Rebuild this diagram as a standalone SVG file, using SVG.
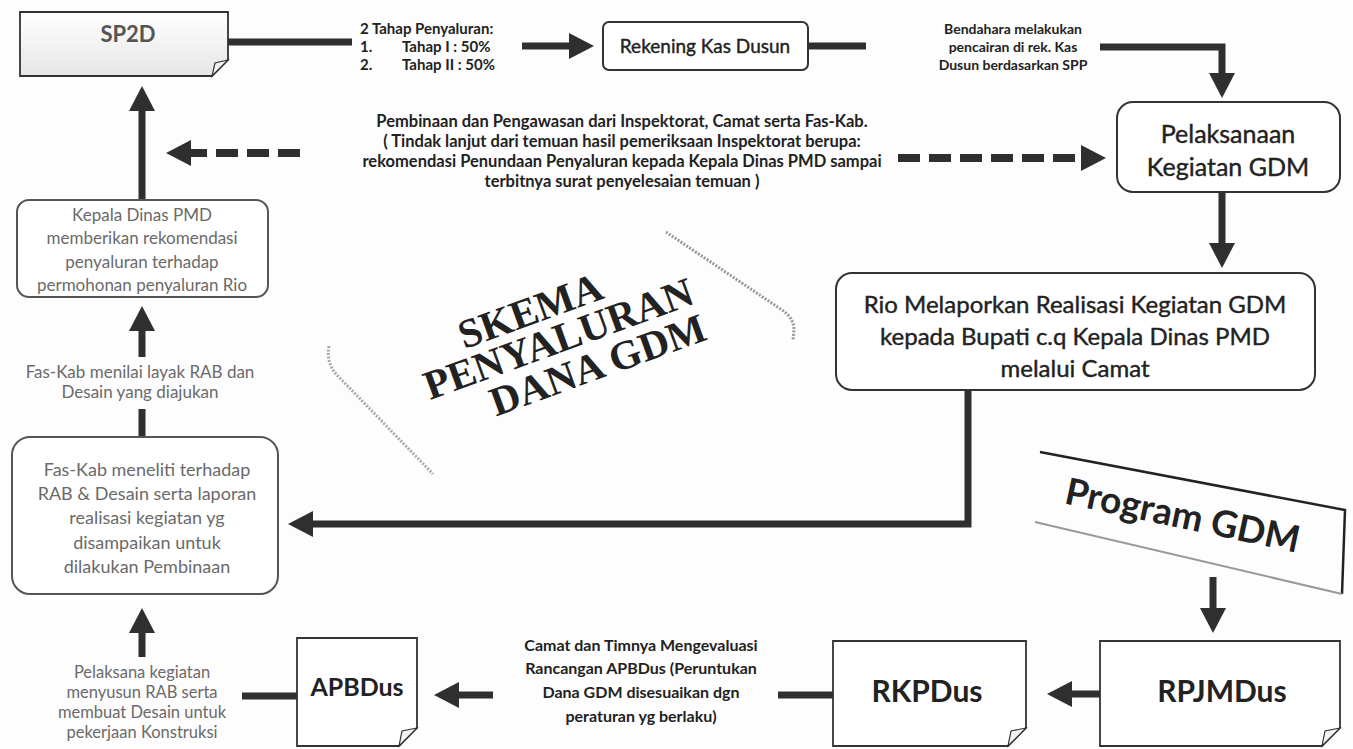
<svg xmlns="http://www.w3.org/2000/svg" width="1353" height="749" viewBox="0 0 1353 749">
<defs>
<style>
.box{fill:#fff;stroke:#333;stroke-width:2}
.note{fill:#fff;stroke:#333;stroke-width:1.8}
.fold{fill:#f4f4f4;stroke:#333;stroke-width:1.2}
.con{fill:none;stroke:#2f2f2f;stroke-width:7}
.dash{fill:none;stroke:#2f2f2f;stroke-width:8;stroke-dasharray:22 9}
.lbl{font-family:Lato,"Liberation Sans",sans-serif;font-weight:bold;font-size:15px;fill:#222;text-anchor:middle}
.lft{font-family:Lato,"Liberation Sans",sans-serif;font-size:17px;fill:#6a6a6a;text-anchor:middle}
.big{font-family:Lato,"Liberation Sans",sans-serif;fill:#222;text-anchor:middle}
.thick{stroke:#222;stroke-width:0.4}
.ttl{font-family:"Liberation Serif","DejaVu Serif",serif;font-weight:bold;font-size:41px;fill:#222;text-anchor:middle}
</style>
<linearGradient id="g1" x1="0" y1="0" x2="0" y2="1">
<stop offset="0" stop-color="#ffffff"/>
<stop offset="1" stop-color="#e6e6e6"/>
</linearGradient>
<marker id="ah" markerUnits="userSpaceOnUse" markerWidth="30" markerHeight="30" refX="1" refY="13" orient="auto">
<path d="M0,0 L25,13 L0,26 z" fill="#2f2f2f"/>
</marker>
</defs>
<rect width="1353" height="749" fill="#fdfdfd"/>

<g id="card">
<path d="M666 232 L782 310 Q794 318 794 330 L793 340" fill="none" stroke="#999" stroke-width="3" stroke-dasharray="2 1.5"/>
<path d="M329 346 Q326 362 336 374 L433 474" fill="none" stroke="#aaa" stroke-width="3" stroke-dasharray="2 1.5"/>
<g transform="translate(560,340) rotate(-20)">
<text class="ttl" x="-18" y="-24">SKEMA</text>
<text class="ttl" x="-1" y="12">PENYALURAN</text>
<text class="ttl" x="27" y="50">DANA GDM</text>
</g>
</g>

<g id="connectors">
<path class="con" d="M228 42 H352"/>
<path class="con" d="M522 46 H570" marker-end="url(#ah)"/>
<path class="con" d="M808 46 H866"/>
<path class="con" d="M1100 47 H1222 V74" marker-end="url(#ah)"/>
<path class="dash" d="M898 158 H1082" marker-end="url(#ah)"/>
<path class="dash" d="M300 153 H190" marker-end="url(#ah)"/>
<path class="con" d="M1222 192 V244" marker-end="url(#ah)"/>
<path class="con" d="M968 390 V524 H312" marker-end="url(#ah)"/>
<path class="con" d="M142 437 V409"/>
<path class="con" d="M142 357 V330" marker-end="url(#ah)"/>
<path class="con" d="M142 200 V110" marker-end="url(#ah)"/>
<path class="con" d="M1213 577 V609" marker-end="url(#ah)"/>
<path class="con" d="M1100 694 H1071" marker-end="url(#ah)"/>
<path class="con" d="M833 695 H778"/>
<path class="con" d="M493 695 H458" marker-end="url(#ah)"/>
<path class="con" d="M297 696 H242"/>
<path class="con" d="M142 657 V632" marker-end="url(#ah)"/>
</g>

<g id="sp2d">
<path d="M20 12 H228 V60 L212 76 H20 Z" fill="url(#g1)" stroke="#333" stroke-width="1.8"/>
<path class="fold" d="M228 60 L215 63 L212 76 Z"/>
<text class="big" x="128" y="42" font-size="22" font-weight="bold" style="fill:#555">SP2D</text>
</g>

<g id="tahap">
<text class="lbl" x="360" y="34" style="text-anchor:start">2 Tahap Penyaluran:</text>
<text class="lbl" x="360" y="52" style="text-anchor:start">1.</text>
<text class="lbl" x="402" y="52" style="text-anchor:start">Tahap I : 50%</text>
<text class="lbl" x="360" y="70" style="text-anchor:start">2.</text>
<text class="lbl" x="402" y="70" style="text-anchor:start">Tahap II : 50%</text>
</g>

<g id="rekening">
<rect class="box" x="603" y="22" width="205" height="48" rx="6"/>
<text class="big thick" x="705" y="53" font-size="19">Rekening Kas Dusun</text>
</g>

<g id="bendahara">
<text class="lbl" x="1013" y="34" style="font-size:14px">Bendahara melakukan</text>
<text class="lbl" x="1013" y="52" style="font-size:14px">pencairan di rek. Kas</text>
<text class="lbl" x="1013" y="70" style="font-size:14px">Dusun berdasarkan SPP</text>
</g>

<g id="pelaksanaan">
<rect class="box" x="1117" y="102" width="223" height="90" rx="16"/>
<text class="big thick" x="1228" y="143" font-size="25">Pelaksanaan</text>
<text class="big thick" x="1228" y="176" font-size="25">Kegiatan GDM</text>
</g>

<g id="pembinaan">
<text class="lbl" x="622" y="127" style="font-size:16.5px">Pembinaan dan Pengawasan dari Inspektorat, Camat serta Fas-Kab.</text>
<text class="lbl" x="622" y="147" style="font-size:16.5px">( Tindak lanjut dari temuan hasil pemeriksaan Inspektorat berupa:</text>
<text class="lbl" x="622" y="167" style="font-size:16.5px">rekomendasi Penundaan Penyaluran kepada Kepala Dinas PMD sampai</text>
<text class="lbl" x="622" y="187" style="font-size:16.5px">terbitnya surat penyelesaian temuan )</text>
</g>

<g id="kepala">
<rect class="box" x="17" y="200" width="251" height="97" rx="12" style="stroke:#555"/>
<text class="lft" x="142" y="221">Kepala Dinas PMD</text>
<text class="lft" x="142" y="244">memberikan rekomendasi</text>
<text class="lft" x="142" y="268">penyaluran terhadap</text>
<text class="lft" x="142" y="291">permohonan penyaluran Rio</text>
</g>

<g id="menilai">
<text class="lft" x="140" y="378">Fas-Kab menilai layak RAB dan</text>
<text class="lft" x="140" y="398">Desain yang diajukan</text>
</g>

<g id="meneliti">
<rect class="box" x="12" y="437" width="266" height="157" rx="18" style="stroke:#555"/>
<text class="lft" x="147" y="476" style="font-size:18px">Fas-Kab meneliti terhadap</text>
<text class="lft" x="147" y="500" style="font-size:18px">RAB &amp; Desain serta laporan</text>
<text class="lft" x="147" y="524" style="font-size:18px">realisasi kegiatan yg</text>
<text class="lft" x="147" y="549" style="font-size:18px">disampaikan untuk</text>
<text class="lft" x="147" y="573" style="font-size:18px">dilakukan Pembinaan</text>
</g>

<g id="rio">
<rect class="box" x="836" y="273" width="479" height="117" rx="16"/>
<text class="big thick" x="1075" y="313" font-size="24">Rio Melaporkan Realisasi Kegiatan GDM</text>
<text class="big thick" x="1075" y="345" font-size="24">kepada Bupati c.q Kepala Dinas PMD</text>
<text class="big thick" x="1075" y="377" font-size="24">melalui Camat</text>
</g>

<g id="program">
<path d="M1040 452 L1345 510 L1342 594" fill="none" stroke="#222" stroke-width="2.5"/>
<path d="M1035 522 L1342 594" fill="none" stroke="#999" stroke-width="2"/>
<text class="big" transform="translate(1180,528) rotate(12)" font-size="37" font-weight="bold">Program GDM</text>
</g>

<g id="rpjmdus">
<path class="note" d="M1100 641 H1340 V728 L1322 746 H1100 Z"/>
<path class="fold" d="M1340 728 L1325 731 L1322 746 Z"/>
<text class="big" x="1222" y="702" font-size="30" font-weight="bold">RPJMDus</text>
</g>

<g id="rkpdus">
<path class="note" d="M833 641 H1026 V728 L1008 746 H833 Z"/>
<path class="fold" d="M1026 728 L1011 731 L1008 746 Z"/>
<text class="big" x="927" y="702" font-size="30" font-weight="bold">RKPDus</text>
</g>

<g id="camat">
<text class="lbl" x="641" y="651" style="font-size:16px">Camat dan Timnya Mengevaluasi</text>
<text class="lbl" x="641" y="674" style="font-size:16px">Rancangan APBDus (Peruntukan</text>
<text class="lbl" x="641" y="698" style="font-size:16px">Dana GDM disesuaikan dgn</text>
<text class="lbl" x="641" y="722" style="font-size:16px">peraturan yg berlaku)</text>
</g>

<g id="apbdus">
<path class="note" d="M297 638 H417 V728 L399 746 H297 Z"/>
<path class="fold" d="M417 728 L402 731 L399 746 Z"/>
<text class="big" x="357" y="696" font-size="25" font-weight="bold">APBDus</text>
</g>

<g id="pelaksana">
<text class="lft" x="142" y="678" style="font-size:16.5px">Pelaksana kegiatan</text>
<text class="lft" x="142" y="698" style="font-size:16.5px">menyusun RAB serta</text>
<text class="lft" x="142" y="718" style="font-size:16.5px">membuat Desain untuk</text>
<text class="lft" x="142" y="738" style="font-size:16.5px">pekerjaan Konstruksi</text>
</g>
</svg>
